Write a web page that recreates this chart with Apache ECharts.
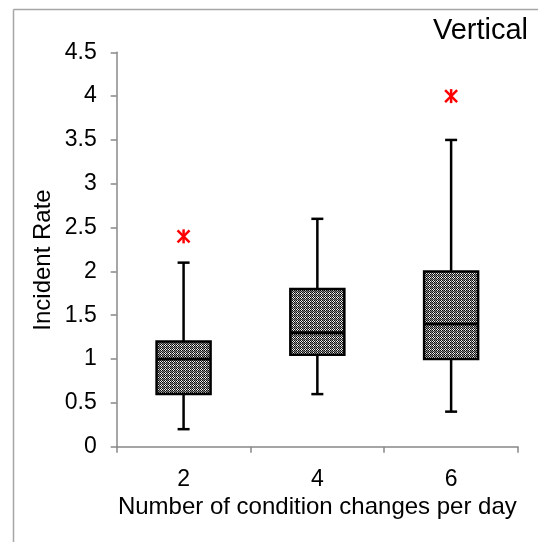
<!DOCTYPE html>
<html>
<head>
<meta charset="utf-8">
<script src="https://cdn.jsdelivr.net/npm/echarts@6/dist/echarts.min.js"></script>
<style>
  html, body { margin: 0; padding: 0; background: #fff; }
  #chart { width: 538px; height: 542px; }
</style>
</head>
<body>
<div id="chart"></div>
<script>
// Incident rate by number of condition changes per day (vertical orientation)
const categories = ['2', '4', '6'];
const whiskerLow = [0.2, 0.6, 0.4];
const quartile1 = [0.6, 1.05, 1.0];
const medians = [1.0, 1.3, 1.4];
const quartile3 = [1.2, 1.8, 2.0];
const whiskerHigh = [2.1, 2.6, 3.5];
const outliers = [[0, 2.4], [2, 4.0]];
const yTicks = [0, 0.5, 1, 1.5, 2, 2.5, 3, 3.5, 4, 4.5];

// dithered grey fill for the boxes
function makePattern() {
  const c = document.createElement('canvas');
  c.width = 4; c.height = 4;
  const g = c.getContext('2d');
  g.fillStyle = '#eeeeee';
  g.fillRect(0, 0, 4, 4);
  g.fillStyle = '#0a0a0a';
  for (let y = 0; y < 4; y++) {
    for (let x = 0; x < 4; x++) {
      if ((x + y) % 2 === 0) g.fillRect(x, y, 1, 1);
    }
  }
  g.fillStyle = 'rgba(60,60,60,0.55)';
  g.fillRect(3, 0, 1, 4);
  g.fillRect(0, 3, 4, 1);
  return c;
}
const boxFill = { image: makePattern(), repeat: 'repeat' };

const boxData = categories.map((c, i) =>
  [i, whiskerLow[i], quartile1[i], medians[i], quartile3[i], whiskerHigh[i]]);

function renderBox(params, api) {
  const i = api.value(0);
  const pLow = api.coord([i, api.value(1)]);
  const pQ1 = api.coord([i, api.value(2)]);
  const pMed = api.coord([i, api.value(3)]);
  const pQ3 = api.coord([i, api.value(4)]);
  const pHigh = api.coord([i, api.value(5)]);
  const x = pMed[0];
  const half = 27;
  const cap = 6;
  const lw = 2.5;
  const stroke = { stroke: '#000', lineWidth: lw };
  return {
    type: 'group',
    children: [
      { type: 'line', shape: { x1: x, y1: pQ3[1], x2: x, y2: pHigh[1] }, style: stroke },
      { type: 'line', shape: { x1: x, y1: pQ1[1], x2: x, y2: pLow[1] }, style: stroke },
      { type: 'line', shape: { x1: x - cap, y1: pHigh[1], x2: x + cap, y2: pHigh[1] }, style: stroke },
      { type: 'line', shape: { x1: x - cap, y1: pLow[1], x2: x + cap, y2: pLow[1] }, style: stroke },
      { type: 'rect', shape: { x: x - half, y: pQ3[1], width: half * 2, height: pQ1[1] - pQ3[1] },
        style: { fill: boxFill, stroke: '#000', lineWidth: lw } },
      { type: 'line', shape: { x1: x - half, y1: pMed[1], x2: x + half, y2: pMed[1] },
        style: { stroke: '#000', lineWidth: 3 } }
    ]
  };
}

// six-armed asterisk marker for outlying values
function renderStar(params, api) {
  const p = api.coord([api.value(0), api.value(1)]);
  const r = 7;
  const d = 6;
  const st = { stroke: '#ff0000', lineWidth: 2.5 };
  return {
    type: 'group',
    children: [
      { type: 'line', shape: { x1: p[0], y1: p[1] - r, x2: p[0], y2: p[1] + r }, style: st },
      { type: 'line', shape: { x1: p[0] - d, y1: p[1] - d, x2: p[0] + d, y2: p[1] + d }, style: st },
      { type: 'line', shape: { x1: p[0] - d, y1: p[1] + d, x2: p[0] + d, y2: p[1] - d }, style: st }
    ]
  };
}

const font = 'Liberation Sans, Arial, sans-serif';
const chart = echarts.init(document.getElementById('chart'), null, { renderer: 'canvas' });
chart.setOption({
  animation: false,
  backgroundColor: '#fff',
  grid: { left: 116.7, right: 20, top: 52.3, bottom: 95.3, containLabel: false },
  xAxis: {
    type: 'category',
    data: categories,
    boundaryGap: true,
    name: 'Number of condition changes per day',
    nameLocation: 'middle',
    nameGap: 48,
    nameTextStyle: { color: '#000', fontSize: 24, fontFamily: font },
    axisLine: { lineStyle: { color: '#888', width: 1.5 } },
    axisTick: { show: true, length: 6, alignWithLabel: false, lineStyle: { color: '#888', width: 1.5 } },
    axisLabel: { color: '#000', fontSize: 23, fontFamily: font, margin: 21 },
    splitLine: { show: false }
  },
  yAxis: {
    type: 'value',
    min: yTicks[0],
    max: yTicks[yTicks.length - 1],
    interval: 0.5,
    axisLine: { show: true, lineStyle: { color: '#888', width: 1.5 } },
    axisTick: { show: true, length: 6, lineStyle: { color: '#888', width: 1.5 } },
    axisLabel: { color: '#000', fontSize: 23, fontFamily: font, margin: 20 },
    splitLine: { show: false }
  },
  graphic: [
    { type: 'line', shape: { x1: 13.5, y1: 9.5, x2: 538, y2: 9.5 }, style: { stroke: '#a6a6a6', lineWidth: 1.5 } },
    { type: 'line', shape: { x1: 13.5, y1: 9.5, x2: 13.5, y2: 542 }, style: { stroke: '#a6a6a6', lineWidth: 1.5 } },
    { type: 'text', x: 528, y: 31, style: { text: 'Vertical', fill: '#000', font: '29px ' + font, textAlign: 'right', textVerticalAlign: 'middle' } },
    { type: 'text', x: 43, y: 260, rotation: Math.PI / 2,
      style: { text: 'Incident Rate', fill: '#000', font: '24px ' + font, textAlign: 'center', textVerticalAlign: 'middle' } }
  ],
  series: [
    { type: 'custom', renderItem: renderBox, data: boxData, encode: { x: 0, y: [1, 5] }, z: 2 },
    { type: 'custom', renderItem: renderStar, data: outliers, encode: { x: 0, y: 1 }, z: 3 }
  ]
});
</script>
</body>
</html>
